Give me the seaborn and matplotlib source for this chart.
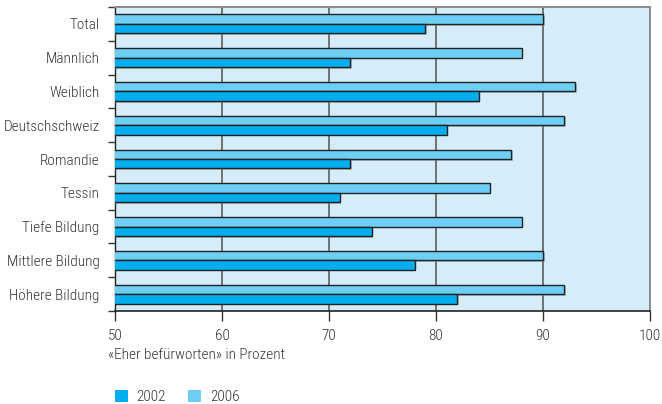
"""
Zustimmung 2002 vs 2006 nach Gruppen, horizontal bar chart.
"""

import matplotlib
matplotlib.use("Agg")
import matplotlib.pyplot as plt
import matplotlib.patches as mpatches
import matplotlib.patheffects as pe
from matplotlib import font_manager as fm
import numpy as np
import pandas as pd
import seaborn as sns

categories = ["Total", "Männlich", "Weiblich", "Deutschschweiz", "Romandie",
              "Tessin", "Tiefe Bildung", "Mittlere Bildung", "Höhere Bildung"]
values_2002 = [79, 72, 84, 81, 72, 71, 74, 78, 82]
values_2006 = [90, 88, 93, 92, 87, 85, 88, 90, 92]
years = ["2002", "2006"]
x_ticks = [50, 60, 70, 80, 90, 100]

colors = {"2002": "#00AEEF", "2006": "#6DCFF6"}
text_color = "#333333"


def pick_font():
    # narrow face if one is around, otherwise Lato a bit smaller
    installed = {f.name for f in fm.fontManager.ttflist}
    for name in ["Roboto Condensed", "PT Sans Narrow", "Open Sans Condensed",
                 "Liberation Sans Narrow", "Asap Condensed"]:
        if name in installed:
            return name, 11
    return "Lato", 9.5


def main():
    df = pd.DataFrame({
        "Gruppe": categories * 2,
        "Jahr": ["2002"] * len(categories) + ["2006"] * len(categories),
        "Wert": values_2002 + values_2006,
    })

    font, fs = pick_font()
    sns.set_theme(style="white")
    plt.rcParams["font.family"] = [font, "DejaVu Sans"]
    plt.rcParams["font.weight"] = "light"

    fig = plt.figure(figsize=(6.62, 4.04), dpi=100)
    ax = fig.add_axes([115 / 662, 1 - 311 / 404, 535 / 662, 304 / 404])
    ax.set_facecolor("#D6ECF9")

    sns.barplot(
        data=df, y="Gruppe", x="Wert", hue="Jahr",
        hue_order=["2006", "2002"], order=categories,
        palette=colors, saturation=1, width=0.56, orient="h",
        edgecolor="#222222", linewidth=1.0, ax=ax, legend=False,
        zorder=3,
    )
    shadow = [pe.SimplePatchShadow(offset=(1.2, -1.2), shadow_rgbFace="#7a8a95", alpha=0.5),
              pe.Normal()]
    for bar in ax.patches:
        bar.set_path_effects(shadow)

    ax.set_xlim(50, 100)
    ax.set_ylim(len(categories) - 0.5, -0.5)
    ax.set_xticks(x_ticks)
    ax.set_xticklabels([str(t) for t in x_ticks], fontsize=fs, color=text_color)
    for t in x_ticks[1:]:
        ax.axvline(t, color="#6e7275", lw=1.4, zorder=2)

    ax.set_yticks(np.arange(len(categories)))
    ax.set_yticklabels(categories, fontsize=fs, color=text_color)
    ax.set_yticks(np.arange(len(categories) + 1) - 0.5, minor=True)
    ax.tick_params(axis="y", which="major", length=0, pad=11)
    ax.tick_params(axis="y", which="minor", length=5, width=1, color="#333333",
                   direction="out", left=True)
    ax.tick_params(axis="x", length=7, width=1, color="#333333",
                   direction="out", bottom=True, pad=6)

    ax.set_xlabel("")
    ax.set_ylabel("")
    fig.text(108 / 662, 1 - 355 / 404, "«Eher befürworten» in Prozent",
             ha="left", va="center", fontsize=fs, color=text_color)

    for side in ["top", "right"]:
        ax.spines[side].set_color("#8a8d90")
        ax.spines[side].set_linewidth(1.4)
    ax.spines["left"].set_color("#222222")
    ax.spines["left"].set_linewidth(1)
    ax.spines["bottom"].set_color("#222222")
    ax.spines["bottom"].set_linewidth(1.2)

    handles = [mpatches.Patch(facecolor=colors[y], edgecolor="none", label=y)
               for y in years]
    fig.legend(handles=handles, loc="center left", bbox_to_anchor=(107 / 662, 1 - 397 / 404),
               ncol=2, frameon=False, fontsize=fs, handlelength=0.85,
               handleheight=0.85, handletextpad=0.55, columnspacing=1.5,
               labelcolor=text_color, borderpad=0)

    fig.savefig("out.png", dpi=100)
    plt.close(fig)


if __name__ == "__main__":
    main()
